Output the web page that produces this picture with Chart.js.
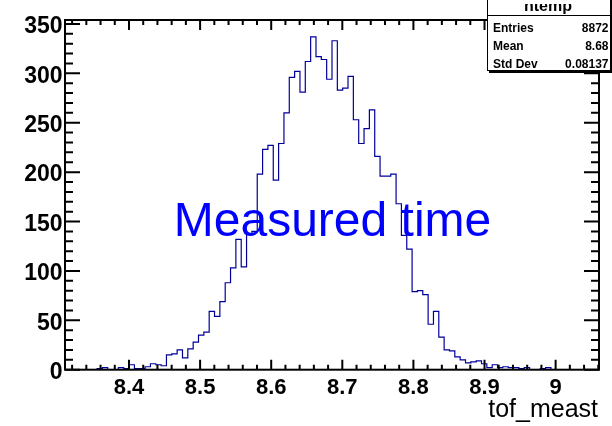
<!DOCTYPE html>
<html><head><meta charset="utf-8">
<script src="https://cdn.jsdelivr.net/npm/chart.js@4.4.0/dist/chart.umd.min.js"></script>
<style>html,body{margin:0;padding:0;background:#fff;} #wrap{width:612px;height:426px;position:relative;}</style>
</head><body><div id="wrap"><canvas id="c"></canvas></div>
<script>
// ---- data (100 bins) ----
const binCounts = [
  0,0,0,0,0,0,0,1,2,0,
  0,2,1,5,1,1,3,6,5,4,
  15,16,20,12,21,28,35,38,59,54,
  69,88,103,132,104,137,140,198,223,227,
  192,229,260,296,302,281,312,337,317,314,
  294,333,283,285,297,253,229,244,263,216,
  196,196,198,168,136,122,79,80,76,46,
  59,33,20,19,13,10,7,8,9,6,
  2,5,2,3,2,2,1,2,0,0,
  1,2,0,0,0,0,0,0,0,0
];
const xMin = 8.31, xMax = 9.061;
const yMin = 0, yMax = 354;
const xMajorTicks = [8.4, 8.5, 8.6, 8.7, 8.8, 8.9, 9.0];
const xTickLabels = ['8.4', '8.5', '8.6', '8.7', '8.8', '8.9', '9'];
const yMajorTicks = [0, 50, 100, 150, 200, 250, 300, 350];
const yTickLabels = ['0', '50', '100', '150', '200', '250', '300', '350'];
const statsTitle = 'htemp';
const statsLabels = ['Entries', 'Mean', 'Std Dev'];
const statsValues = ['8872', '8.68', '0.08137'];
const xAxisTitle = 'tof_meast';
const mainText = 'Measured time';

// step outline points built from bin contents
const binWidth = (xMax - xMin) / binCounts.length;
const stepPoints = binCounts.map((c, i) => ({x: xMin + i * binWidth, y: c}));
stepPoints.push({x: xMax, y: binCounts[binCounts.length - 1]});

const FONT = '"Liberation Sans", Arial, Helvetica, sans-serif';

const rootDecor = {
  id: 'rootDecor',
  afterDatasetsDraw(chart) {
    const {ctx, chartArea: a, scales: {x, y}} = chart;
    ctx.save();
    // main text
    ctx.fillStyle = '#0000ff';
    ctx.font = '48px ' + FONT;
    ctx.textAlign = 'center';
    ctx.textBaseline = 'alphabetic';
    ctx.fillText(mainText, 332.5, 236);
    // frame + ticks
    ctx.strokeStyle = '#000';
    ctx.lineWidth = 2;
    ctx.strokeRect(a.left, a.top, a.right - a.left, a.bottom - a.top);
    ctx.beginPath();
    for (let k = Math.ceil(xMin / 0.02 - 1e-6); k * 0.02 <= xMax + 1e-9; k++) {
      const px = x.getPixelForValue(k * 0.02);
      const L = (k % 5 === 0) ? 10 : 5;
      ctx.moveTo(px, a.bottom); ctx.lineTo(px, a.bottom - L);
      ctx.moveTo(px, a.top); ctx.lineTo(px, a.top + L);
    }
    for (let k = 0; k * 10 <= yMax; k++) {
      const py = y.getPixelForValue(k * 10);
      const L = (k % 5 === 0) ? 15 : 8;
      ctx.moveTo(a.left, py); ctx.lineTo(a.left + L, py);
      ctx.moveTo(a.right, py); ctx.lineTo(a.right - L, py);
    }
    ctx.stroke();
    // x axis title
    ctx.fillStyle = '#000';
    ctx.font = '25px ' + FONT;
    ctx.textAlign = 'right';
    ctx.fillText(xAxisTitle, 598, 417);
    ctx.restore();
  },
  afterDraw(chart) {
    const ctx = chart.ctx;
    ctx.save();
    // stats box with shadow
    ctx.fillStyle = '#000';
    ctx.fillRect(489, 0, 123, 73);
    ctx.fillStyle = '#fff';
    ctx.fillRect(487, -1, 123, 72);
    ctx.strokeStyle = '#000';
    ctx.lineWidth = 1;
    ctx.strokeRect(487.5, -1.5, 123, 72);
    ctx.beginPath(); ctx.moveTo(487.5, 15.5); ctx.lineTo(610.5, 15.5); ctx.stroke();
    // title (clipped as in reference)
    ctx.save();
    ctx.beginPath(); ctx.rect(488, 4, 122, 11); ctx.clip();
    ctx.fillStyle = '#000';
    ctx.font = 'bold 16px ' + FONT;
    ctx.textAlign = 'center';
    ctx.fillText(statsTitle, 548, 11);
    ctx.restore();
    ctx.fillStyle = '#000';
    ctx.font = 'bold 12px ' + FONT;
    const rows = [32.3, 50, 67.7];
    statsLabels.forEach((lab, i) => {
      ctx.textAlign = 'left';
      ctx.fillText(lab, 493, rows[i]);
      ctx.textAlign = 'right';
      ctx.fillText(statsValues[i], 608.5, rows[i]);
    });
    ctx.restore();
  }
};

new Chart(document.getElementById('c'), {
  type: 'line',
  data: {
    datasets: [{
      data: stepPoints,
      stepped: 'after',
      borderColor: '#000099',
      borderWidth: 1.2,
      pointRadius: 0,
      fill: false
    }]
  },
  options: {
    responsive: true,
    maintainAspectRatio: false,
    animation: false,
    devicePixelRatio: 1,
    layout: {padding: {top: 20, right: 13, left: 0, bottom: 0}},
    plugins: {legend: {display: false}, tooltip: {enabled: false}},
    scales: {
      x: {
        type: 'linear', min: xMin, max: xMax,
        grid: {display: false, drawTicks: false},
        border: {display: false},
        afterBuildTicks: s => { s.ticks = xMajorTicks.map(v => ({value: v})); },
        afterFit: s => { s.height = 56.3; },
        ticks: {
          autoSkip: false, maxRotation: 0, padding: 5,
          color: '#000',
          font: {family: FONT, size: 22, weight: 'bold'},
          callback: v => { const i = xMajorTicks.findIndex(t => Math.abs(t - v) < 1e-6); return i >= 0 ? xTickLabels[i] : ''; }
        }
      },
      y: {
        type: 'linear', min: yMin, max: yMax,
        grid: {display: false, drawTicks: false},
        border: {display: false},
        afterBuildTicks: s => { s.ticks = yMajorTicks.map(v => ({value: v})); },
        afterFit: s => { s.width = 65; },
        ticks: {
          autoSkip: false, padding: 2.5, labelOffset: 3,
          color: '#000',
          font: {family: FONT, size: 23, weight: 'bold'},
          callback: v => { const i = yMajorTicks.indexOf(v); return i >= 0 ? yTickLabels[i] : ''; }
        }
      }
    }
  },
  plugins: [rootDecor]
});
</script>
</body></html>
